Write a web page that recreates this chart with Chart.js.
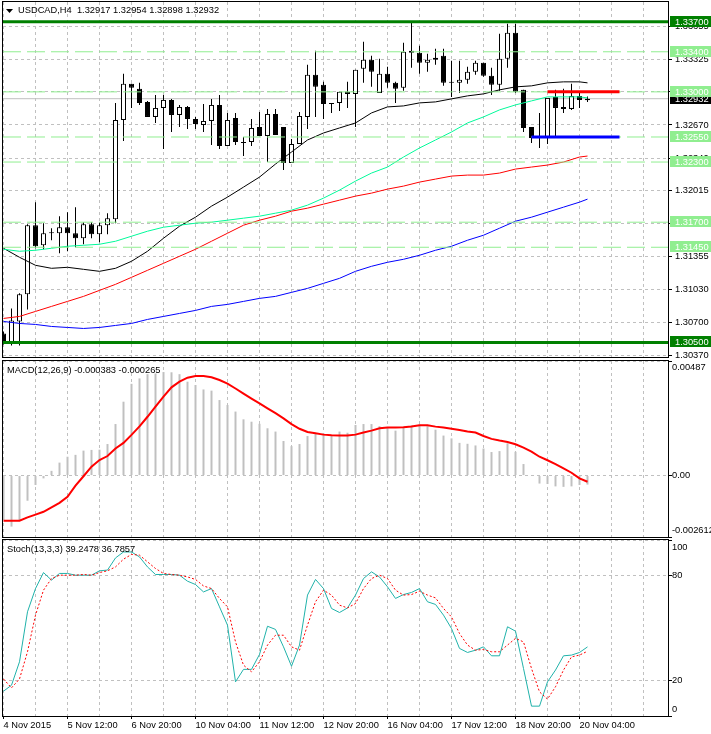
<!DOCTYPE html>
<html>
<head>
<meta charset="utf-8">
<script src="https://cdn.jsdelivr.net/npm/chart.js@4.4.0/dist/chart.umd.min.js"></script>
<style>
  html, body { margin: 0; padding: 0; background: #fff; }
  #wrap { position: relative; width: 711px; height: 734px; overflow: hidden; }
  canvas { position: absolute; left: 0; }
</style>
</head>
<body>
<div id="wrap">
  <canvas id="price" width="711" height="359" style="top:0px"></canvas>
  <canvas id="macd" width="711" height="180" style="top:359px"></canvas>
  <canvas id="stoch" width="711" height="195" style="top:539px"></canvas>
</div>
<script>
const FONT = '"Liberation Sans", Arial, sans-serif';
const FONT_SIZE = 9.3;
Chart.defaults.font.family = FONT;
Chart.defaults.font.size = FONT_SIZE;
Chart.defaults.color = '#000';
Chart.defaults.animation = false;

// ---- USDCAD H4 candles (bar index 0 = 4 Nov 2015) ----
const opens  = [1.3059,1.3049,1.3071,1.3098,1.3167,1.3147,1.3160,1.3159,1.3165,1.3159,1.3154,1.3168,1.3158,1.3167,1.3173,1.3272,1.3308,1.3303,1.3290,1.3275,
                1.3284,1.3292,1.3277,1.3285,1.3273,1.3267,1.3271,1.3287,1.3246,1.3274,1.3250,1.3250,1.3265,1.3256,1.3278,1.3265,1.3229,1.3248,1.3275,1.3317,
                1.3307,1.3289,1.3289,1.3300,1.3298,1.3323,1.3332,1.3299,1.3318,1.3309,1.3304,1.3341,1.3339,1.3329,1.3332,1.3336,1.3310,1.3309,1.3312,1.3320,
                1.3329,1.3316,1.3307,1.3333,1.3359,1.3302,1.3265,1.3255,1.3254,1.3295,1.3285,1.3283,1.3296,1.32917];
const highs  = [1.3061,1.3084,1.3099,1.3168,1.3190,1.3169,1.3164,1.3176,1.3180,1.3185,1.3170,1.3170,1.3170,1.3179,1.3289,1.3318,1.3308,1.3309,1.3291,1.3297,
                1.3297,1.3293,1.3287,1.3286,1.3275,1.3288,1.3293,1.3297,1.3279,1.3279,1.3255,1.3273,1.3280,1.3283,1.3283,1.3265,1.3253,1.3280,1.3327,1.3341,
                1.3310,1.3289,1.3300,1.3310,1.3322,1.3350,1.3336,1.3333,1.3325,1.3310,1.3349,1.3370,1.3346,1.3338,1.3343,1.3343,1.3331,1.3331,1.3325,1.3331,
                1.3329,1.3324,1.3358,1.3368,1.3368,1.3302,1.3265,1.3279,1.3294,1.3302,1.3303,1.3308,1.3299,1.32954];
const lows   = [1.3048,1.3047,1.3047,1.3083,1.3144,1.3143,1.3152,1.3139,1.3141,1.3145,1.3148,1.3154,1.3150,1.3158,1.3169,1.3251,1.3284,1.3287,1.3275,1.3269,
                1.3243,1.3260,1.3265,1.3263,1.3263,1.3260,1.3247,1.3243,1.3246,1.3247,1.3236,1.3246,1.3256,1.3230,1.3257,1.3222,1.3229,1.3248,1.3263,1.3275,
                1.3273,1.3279,1.3281,1.3284,1.3265,1.3309,1.3305,1.3299,1.3304,1.3289,1.3301,1.3324,1.3318,1.3320,1.3327,1.3306,1.3295,1.3299,1.3308,1.3317,
                1.3315,1.3297,1.3301,1.3324,1.3299,1.3260,1.3249,1.3244,1.3248,1.3254,1.3279,1.3282,1.3284,1.32898];
const closes = [1.3050,1.3072,1.3098,1.3167,1.3146,1.3159,1.3159,1.3165,1.3159,1.3154,1.3168,1.3158,1.3167,1.3174,1.3272,1.3308,1.3304,1.3289,1.3275,1.3284,
                1.3292,1.3277,1.3285,1.3273,1.3268,1.3271,1.3287,1.3246,1.3272,1.3250,1.3249,1.3264,1.3256,1.3278,1.3257,1.3229,1.3248,1.3276,1.3317,1.3305,
                1.3288,1.3288,1.3300,1.3298,1.3322,1.3332,1.3320,1.3318,1.3309,1.3303,1.3340,1.3339,1.3329,1.3332,1.3334,1.3309,1.3309,1.3312,1.3320,1.3329,
                1.3316,1.3307,1.3333,1.3359,1.3300,1.3264,1.3254,1.3254,1.3294,1.3284,1.3283,1.3296,1.3292,1.32932];
const bars = opens.map((_, i) => i);

// ---- moving averages, read every 2 bars ----
const maIndex = [0,2,4,6,8,10,12,14,16,18,20,22,24,26,28,30,32,34,36,38,40,42,44,46,48,50,52,54,56,58,60,62,64,66,68,70,72,73];
const maBlack = [1.3144,1.3135,1.3127,1.3124,1.3125,1.3123,1.3121,1.3124,1.3131,1.3141,1.3154,1.3166,1.3175,1.3186,1.3195,1.3205,1.3215,1.3228,1.3240,
                 1.3252,1.3259,1.3264,1.3269,1.3279,1.3285,1.3286,1.3289,1.3290,1.3293,1.3296,1.3298,1.3302,1.3305,1.3306,1.3309,1.3310,1.3310,1.3309];
const maGreen = [1.3143,1.3141,1.3142,1.3144,1.3146,1.3147,1.3148,1.3151,1.3156,1.3161,1.3165,1.3167,1.3169,1.3170,1.3172,1.3174,1.3176,1.3179,1.3182,
                 1.3187,1.3194,1.3202,1.3211,1.3219,1.3225,1.3235,1.3244,1.3252,1.3260,1.3269,1.3275,1.3282,1.3287,1.3291,1.3295,1.3295,1.3295,1.3294];
const maRed   = [1.3074,1.3076,1.3081,1.3086,1.3091,1.3096,1.3102,1.3108,1.3115,1.3122,1.3129,1.3136,1.3143,1.3151,1.3159,1.3167,1.3172,1.3176,1.3181,
                 1.3184,1.3188,1.3192,1.3196,1.3199,1.3203,1.3206,1.3210,1.3213,1.3216,1.3217,1.3217,1.3219,1.3223,1.3225,1.3227,1.3230,1.3235,1.3236];
const maBlue  = [1.3071,1.3069,1.3068,1.3066,1.3065,1.3064,1.3065,1.3067,1.3069,1.3073,1.3076,1.3079,1.3082,1.3086,1.3088,1.3091,1.3094,1.3096,1.3100,
                 1.3104,1.3109,1.3114,1.3121,1.3126,1.3130,1.3133,1.3137,1.3142,1.3146,1.3152,1.3157,1.3164,1.3171,1.3175,1.3180,1.3185,1.3190,1.3193];

// ---- horizontal levels ----
const majorLevels = [1.3370, 1.3050];
const minorLevels = [1.3340, 1.3300, 1.3255, 1.3230, 1.3170, 1.3145];
const lastPrice = 1.32932;
const redSeg  = { from: 68, to: 77, value: 1.3300 };
const blueSeg = { from: 66, to: 77, value: 1.3255 };

// ---- MACD(12,26,9) ----
const macdMain = [-0.00189,-0.00217,-0.00190,-0.00107,-0.00040,-0.00012,0.00020,0.00055,0.00080,0.00088,0.00106,0.00109,0.00110,0.00134,0.00219,
                  0.00314,0.00390,0.00413,0.00431,0.00434,0.00440,0.00439,0.00431,0.00399,0.00385,0.00366,0.00361,0.00321,0.00300,0.00272,
                  0.00239,0.00229,0.00220,0.00201,0.00187,0.00147,0.00125,0.00134,0.00168,0.00177,0.00180,0.00168,0.00187,0.00182,0.00215,
                  0.00219,0.00219,0.00210,0.00205,0.00191,0.00207,0.00213,0.00216,0.00210,0.00195,0.00170,0.00158,0.00139,0.00135,0.00128,
                  0.00115,0.00100,0.00104,0.00137,0.00101,0.00049,0.00002,-0.00034,-0.00036,-0.00046,-0.00048,-0.00046,-0.00040,-0.000383];
const macdSignal = [-0.00192,-0.00192,-0.00192,-0.00178,-0.00166,-0.00154,-0.00135,-0.00116,-0.00090,-0.00043,-0.00003,0.00038,0.00066,0.00083,0.00115,
                    0.00139,0.00173,0.00209,0.00250,0.00293,0.00336,0.00375,0.00399,0.00416,0.00423,0.00423,0.00418,0.00406,0.00391,0.00370,
                    0.00348,0.00327,0.00307,0.00286,0.00265,0.00243,0.00219,0.00199,0.00185,0.00180,0.00174,0.00171,0.00170,0.00170,0.00174,
                    0.00183,0.00191,0.00201,0.00204,0.00204,0.00205,0.00209,0.00214,0.00214,0.00208,0.00204,0.00199,0.00194,0.00187,0.00183,
                    0.00168,0.00156,0.00149,0.00143,0.00133,0.00119,0.00102,0.00080,0.00065,0.00049,0.00031,0.00012,-0.00012,-0.000265];
const MACD_MIN = -0.002612, MACD_MAX = 0.00487;

// ---- Stoch(13,3,3) ----
const stochK = [14.1,17.5,30.8,59.2,72.4,81.5,77.2,81.0,81.0,80.0,80.0,80.0,82.5,82.9,89.8,93.2,93.2,90.4,84.7,80.4,80.4,80.4,80.0,76.6,74.7,
                70.5,72.4,62.0,51.6,19.4,26.5,26.5,35.0,51.0,49.2,39.3,28.3,40.3,68.7,77.6,72.4,61.1,58.8,61.4,68.7,78.1,81.9,79.0,73.4,66.8,
                69.0,70.2,72.4,64.9,63.4,57.3,49.7,38.4,36.1,37.4,39.3,34.2,34.2,50.7,48.2,27.0,5.6,5.6,19.4,26.1,34.2,34.6,36.1,39.25];
const stochD = [21.0,16.0,21.0,36.5,57.3,71.5,78.1,80.0,80.0,80.0,80.4,80.0,81.5,82.5,84.7,89.1,91.8,91.4,87.6,83.8,81.0,80.4,80.0,79.0,77.6,
                73.9,72.4,66.8,62.0,42.1,28.9,25.1,30.8,40.3,45.9,45.9,39.3,37.4,51.6,64.9,71.5,68.7,63.0,61.4,63.9,72.4,78.1,80.0,78.1,71.5,
                68.7,69.0,70.9,68.7,67.1,61.1,56.3,46.9,40.3,37.4,37.8,36.5,36.5,40.3,44.1,42.1,27.0,13.7,9.6,16.6,26.1,33.6,34.6,36.79];

// ---- axes ----
const priceTicks = [1.30370,1.30700,1.31030,1.31355,1.31685,1.32015,1.32340,1.32670,1.33000,1.33325,1.33655];
const gridBars = [0,4,8,12,16,20,24,28,32,36,40,44,48,52,56,60,64,68,72,76,80];
const timeTickBars = [0,8,16,24,32,40,48,56,64,72];
const timeTickText = ['4 Nov 2015','5 Nov 12:00','6 Nov 20:00','10 Nov 04:00','11 Nov 12:00',
                      '12 Nov 20:00','16 Nov 04:00','17 Nov 12:00','18 Nov 20:00','20 Nov 04:00'];
const X_MIN = -0.0625, X_MAX = 83.0625;
const PRICE_MIN = 1.303553, PRICE_MAX = 1.338965;

const GRID = '#c0c0c0';

function xScale(showLabels) {
  return {
    type: 'linear', min: X_MIN, max: X_MAX, offset: false,
    afterBuildTicks: s => { s.ticks = gridBars.map(v => ({ value: v })); },
    afterFit: s => { s.height = showLabels ? 18 : 0; s.paddingLeft = 0; s.paddingRight = 0; },
    grid: {
      color: GRID, offset: false, drawTicks: showLabels, tickLength: 3,
      tickColor: c => (c.tick && timeTickBars.includes(c.tick.value)) ? '#000' : 'rgba(0,0,0,0)'
    },
    border: { display: false, dash: [3, 3] },
    ticks: {
      display: showLabels, autoSkip: false, maxRotation: 0, minRotation: 0, align: 'start', padding: 1,
      callback: v => { const k = timeTickBars.indexOf(v); return k >= 0 ? timeTickText[k] : ''; }
    }
  };
}

function yScale(min, max, ticks, showLabels) {
  return {
    type: 'linear', position: 'right', min: min, max: max,
    afterBuildTicks: s => { s.ticks = ticks.map(v => ({ value: v })); },
    afterFit: s => { s.width = 43; s.paddingTop = 0; s.paddingBottom = 0; },
    grid: { color: GRID, drawTicks: true, tickLength: 4, tickColor: '#000' },
    border: { display: false, dash: [3, 3] },
    ticks: { display: showLabels, autoSkip: false, padding: 3, callback: v => v.toFixed(5) }
  };
}

function hLine(value, from, to) {
  return [{ x: from, y: value }, { x: to, y: value }];
}

function decor(cfg) {
  return {
    id: 'decor',
    afterDraw(chart) {
      const ctx = chart.ctx, a = chart.chartArea, ys = chart.scales.y;
      ctx.save();
      ctx.strokeStyle = '#000';
      ctx.lineWidth = 1;
      ctx.strokeRect(a.left - 0.5, a.top - 0.5, a.right - a.left + 1, a.bottom - a.top + 1);
      ctx.font = FONT_SIZE + 'px ' + FONT;
      ctx.textBaseline = 'middle';
      ctx.textAlign = 'left';
      ctx.fillStyle = '#000';
      if (cfg.triangle) {
        ctx.beginPath();
        ctx.moveTo(6, 9); ctx.lineTo(13, 9); ctx.lineTo(9.5, 13); ctx.closePath();
        ctx.fill();
      }
      ctx.fillText(cfg.title, cfg.titleX, cfg.titleY);
      (cfg.sideLabels || []).forEach(s => {
        ctx.fillText(s.text, 672, ys.getPixelForValue(s.value) + s.dy);
      });
      (cfg.boxes || []).forEach(b => {
        const y = Math.round(ys.getPixelForValue(b.value));
        ctx.fillStyle = b.bg;
        ctx.fillRect(670, y - 6, 41, 11);
        ctx.fillStyle = '#fff';
        ctx.fillText(b.value.toFixed(5), 675, y);
      });
      ctx.restore();
    }
  };
}

const common = {
  responsive: false,
  devicePixelRatio: 1,
  events: [],
  plugins: { legend: { display: false }, tooltip: { enabled: false } },
  elements: { point: { radius: 0 }, line: { tension: 0 } }
};

// ---- price panel ----
const priceDatasets = [
  { type: 'line', data: hLine(lastPrice, X_MIN, X_MAX), borderColor: '#c0c0c0', borderWidth: 1, order: 12 },
  { type: 'bar', data: bars.map(i => ({ x: i, y: [lows[i], highs[i]] })), backgroundColor: '#000',
    borderWidth: 0, grouped: false, maxBarThickness: 1, inflateAmount: 0, order: 11 },
  { type: 'bar', data: bars.map(i => ({ x: i, y: [opens[i], closes[i]] })),
    backgroundColor: bars.map(i => closes[i] > opens[i] ? '#fff' : '#000'),
    borderColor: '#000', borderWidth: 1, borderSkipped: false, grouped: false, maxBarThickness: 5, inflateAmount: 0, order: 10 },
  { type: 'line', data: maIndex.map((x, k) => ({ x, y: maBlue[k] })), borderColor: '#0000ff', borderWidth: 1, order: 6 },
  { type: 'line', data: maIndex.map((x, k) => ({ x, y: maRed[k] })), borderColor: '#ff0000', borderWidth: 1, order: 6 },
  { type: 'line', data: maIndex.map((x, k) => ({ x, y: maGreen[k] })), borderColor: '#00fa9a', borderWidth: 1, order: 6 },
  { type: 'line', data: maIndex.map((x, k) => ({ x, y: maBlack[k] })), borderColor: '#000', borderWidth: 1, order: 6 },
  ...minorLevels.map(v => ({ type: 'line', data: hLine(v, X_MIN, X_MAX), borderColor: '#90ee90',
    borderWidth: 1, borderDash: [18, 6], order: 4 })),
  { type: 'line', data: hLine(redSeg.value, redSeg.from, redSeg.to), borderColor: '#ff0000', borderWidth: 3, order: 2 },
  { type: 'line', data: hLine(blueSeg.value, blueSeg.from, blueSeg.to), borderColor: '#0000ff', borderWidth: 3, order: 2 },
  ...majorLevels.map(v => ({ type: 'line', data: hLine(v, X_MIN, X_MAX), borderColor: '#008000', borderWidth: 3, order: 1 }))
];

new Chart(document.getElementById('price'), {
  type: 'line',
  data: { datasets: priceDatasets },
  options: Object.assign({}, common, {
    layout: { padding: { top: 2, bottom: 2, left: 3, right: 0 } },
    scales: { x: xScale(false), y: yScale(PRICE_MIN, PRICE_MAX, priceTicks, true) }
  }),
  plugins: [decor({
    triangle: true, title: 'USDCAD,H4  1.32917 1.32954 1.32898 1.32932', titleX: 18, titleY: 10.5,
    boxes: [{ value: lastPrice, bg: '#000' }]
      .concat(majorLevels.map(v => ({ value: v, bg: '#008000' })))
      .concat(minorLevels.map(v => ({ value: v, bg: '#90ee90' })))
  })]
});

// ---- MACD panel ----
new Chart(document.getElementById('macd'), {
  type: 'line',
  data: {
    datasets: [
      { type: 'line', data: bars.map(i => ({ x: i, y: macdSignal[i] })), borderColor: '#ff0000', borderWidth: 2, order: 1 },
      { type: 'bar', data: bars.map(i => ({ x: i, y: macdMain[i] })), backgroundColor: '#c0c0c0',
        borderWidth: 0, grouped: false, maxBarThickness: 2, inflateAmount: 0, order: 2 }
    ]
  },
  options: Object.assign({}, common, {
    layout: { padding: { top: 2, bottom: 2, left: 3, right: 0 } },
    scales: { x: xScale(false), y: yScale(MACD_MIN, MACD_MAX, [MACD_MIN, 0, MACD_MAX], false) }
  }),
  plugins: [decor({
    title: 'MACD(12,26,9) -0.000383 -0.000265', titleX: 7, titleY: 11,
    sideLabels: [{ text: '0.00487', value: MACD_MAX, dy: 6 }, { text: '0.00', value: 0, dy: 0 },
                 { text: '-0.002612', value: MACD_MIN, dy: -6.5 }]
  })]
});

// ---- Stochastic panel ----
new Chart(document.getElementById('stoch'), {
  type: 'line',
  data: {
    datasets: [
      { data: bars.map(i => ({ x: i, y: stochK[i] })), borderColor: '#20b2aa', borderWidth: 1, order: 2 },
      { data: bars.map(i => ({ x: i, y: stochD[i] })), borderColor: '#ff0000', borderWidth: 1, borderDash: [2, 2], order: 1 }
    ]
  },
  options: Object.assign({}, common, {
    layout: { padding: { top: 1, bottom: 0, left: 3, right: 0 } },
    scales: { x: xScale(true), y: yScale(0, 100, [0, 20, 80, 100], false) }
  }),
  plugins: [decor({
    title: 'Stoch(13,3,3) 39.2478 36.7857', titleX: 7, titleY: 10,
    sideLabels: [{ text: '100', value: 100, dy: 7 }, { text: '80', value: 80, dy: 0 },
                 { text: '20', value: 20, dy: 0 }, { text: '0', value: 0, dy: -7 }]
  })]
});
</script>
</body>
</html>
